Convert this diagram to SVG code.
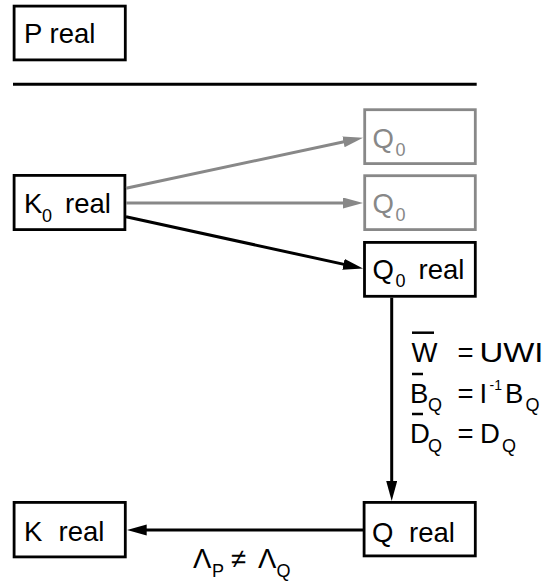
<svg xmlns="http://www.w3.org/2000/svg" width="553" height="583" viewBox="0 0 553 583">
  <style>
    text { font-family: "Liberation Sans", Arial, Helvetica, sans-serif; fill: #000; }
    .lbl { font-size: 27.5px; }
    .sub { font-size: 18px; }
    .sup { font-size: 14px; }
    .box { fill: #fff; stroke: #000; stroke-width: 2.8; }
    .ghost .box { stroke: #888; }
    .ghost text { fill: #888; }
    .edge { fill: none; stroke: #000; stroke-width: 3; }
    .edge.grey { stroke: #888; }
    .bar { stroke: #000; stroke-width: 2.5; }
  </style>
  <defs>
    <marker id="head" markerUnits="userSpaceOnUse" markerWidth="20" markerHeight="12" refX="3" refY="5.5" orient="auto">
      <path d="M0,0 L20,5.5 L0,11 Z" fill="#000"/>
    </marker>
    <marker id="head-grey" markerUnits="userSpaceOnUse" markerWidth="20" markerHeight="12" refX="3" refY="5.5" orient="auto">
      <path d="M0,0 L20,5.5 L0,11 Z" fill="#888"/>
    </marker>
  </defs>

  <!-- separator rule -->
  <line x1="13" y1="84.3" x2="476.7" y2="84.3" stroke="#000" stroke-width="3"/>

  <g id="node-P">
    <rect class="box" x="14.1" y="6.1" width="111.2" height="53.8"/>
    <text class="lbl" x="24" y="42.7">P real</text>
  </g>

  <g id="node-K0">
    <rect class="box" x="14.1" y="175.4" width="110.8" height="54.2"/>
    <text class="lbl" x="24" y="213.3">K</text>
    <text class="sub" x="42" y="222">0</text>
    <text class="lbl" x="65" y="213.3">real</text>
  </g>

  <g id="node-Q0-a" class="ghost">
    <rect class="box" x="364.7" y="109.7" width="110.6" height="53.9"/>
    <text class="lbl" x="372.5" y="148.3">Q</text>
    <text class="sub" x="395.5" y="156">0</text>
  </g>

  <g id="node-Q0-b" class="ghost">
    <rect class="box" x="364.7" y="175.7" width="110.6" height="53.9"/>
    <text class="lbl" x="372.5" y="213.3">Q</text>
    <text class="sub" x="395.5" y="221">0</text>
  </g>

  <g id="node-Q0-real">
    <rect class="box" x="364.5" y="242.4" width="110.8" height="53.9"/>
    <text class="lbl" x="372.5" y="279.3">Q</text>
    <text class="sub" x="395.5" y="287.3">0</text>
    <text class="lbl" x="418.5" y="279.3">real</text>
  </g>

  <g id="node-K">
    <rect class="box" x="14.1" y="502.4" width="111.2" height="54.5"/>
    <text class="lbl" x="24" y="541">K</text>
    <text class="lbl" x="58.5" y="541">real</text>
  </g>

  <g id="node-Q">
    <rect class="box" x="364.1" y="502.4" width="111.2" height="53.5"/>
    <text class="lbl" x="372" y="541.7">Q</text>
    <text class="lbl" x="409" y="541.7">real</text>
  </g>

  <g id="connectors">
    <path class="edge grey" d="M126,188.3 L346.4,141.3" marker-end="url(#head-grey)"/>
    <path class="edge grey" d="M126,203 L346,203" marker-end="url(#head-grey)"/>
    <path class="edge" d="M126,216.7 L346.4,264.9" marker-end="url(#head)"/>
    <path class="edge" d="M391.7,297.7 L391.7,484" marker-end="url(#head)"/>
    <path class="edge" d="M363,530 L143.7,530" marker-end="url(#head)"/>
  </g>

  <!-- transformation equations along the vertical edge -->
  <g id="equations">
    <line class="bar" x1="412" y1="332.7" x2="434" y2="332.7"/>
    <text class="lbl" x="411.5" y="362.3">W</text>
    <text class="lbl" x="457.5" y="362.3">=</text>
    <text class="lbl" x="479.5" y="362.3" textLength="64" lengthAdjust="spacingAndGlyphs">UWI</text>

    <line class="bar" x1="412" y1="374" x2="423" y2="374"/>
    <text class="lbl" x="410" y="402.7">B</text>
    <text class="sub" x="428" y="410.5">Q</text>
    <text class="lbl" x="457.5" y="402.7">=</text>
    <text class="lbl" x="479.5" y="402.7">I</text>
    <text class="sup" x="489.5" y="390">-1</text>
    <text class="lbl" x="505" y="402.7">B</text>
    <text class="sub" x="525.5" y="410.5">Q</text>

    <line class="bar" x1="412" y1="414" x2="423" y2="414"/>
    <text class="lbl" x="410" y="443.3">D</text>
    <text class="sub" x="428" y="451.5">Q</text>
    <text class="lbl" x="457.5" y="443.3">=</text>
    <text class="lbl" x="480" y="443.3">D</text>
    <text class="sub" x="502" y="451.5">Q</text>
  </g>

  <!-- label under the bottom edge -->
  <g id="edge-label">
    <text class="lbl" x="193" y="567.7">Λ</text>
    <text class="sub" x="212" y="576.7">P</text>
    <text class="lbl" x="231" y="567.7">≠</text>
    <text class="lbl" x="258" y="567.7">Λ</text>
    <text class="sub" x="276.5" y="576.5">Q</text>
  </g>
</svg>
